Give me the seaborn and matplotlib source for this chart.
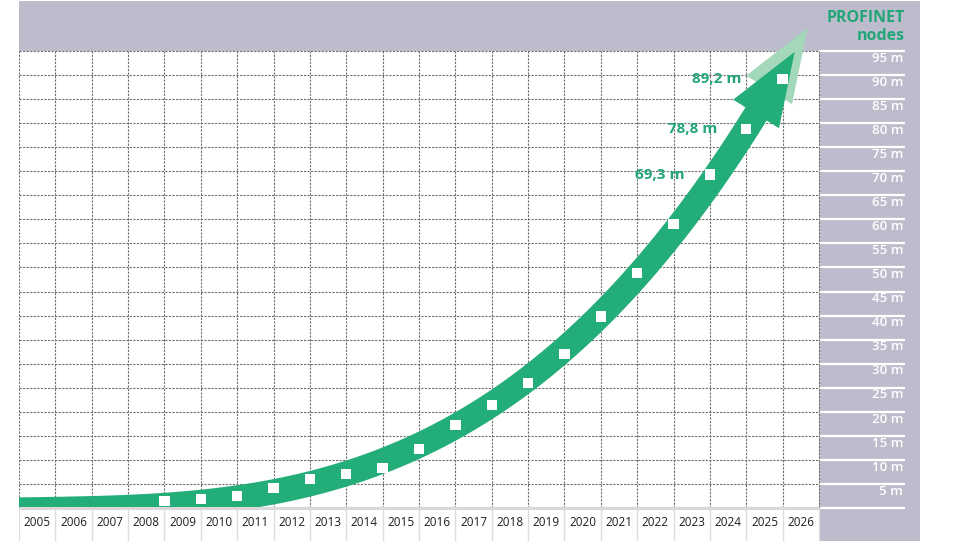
import numpy as np
import matplotlib.pyplot as plt
from matplotlib.patches import Polygon, Rectangle
import seaborn as sns

sns.set_theme(style="white")
plt.rcParams["font.family"] = ["Open Sans", "DejaVu Sans"]

# data (million nodes installed, end of year)
years = list(range(2005, 2027))
node_years = list(range(2008, 2026))
nodes_m = [1.4, 1.8, 2.5, 4.1, 6.0, 7.0, 8.3, 12.2, 17.3, 21.4,
           26.0, 32.0, 39.8, 48.8, 59.0, 69.3, 78.8, 89.2]
labelled_years = [2023, 2024, 2025]
y_ticks = list(range(5, 100, 5))

GREEN = "#23ad79"
LIGHT_GREEN = "#a3d8ba"
PANEL = "#bcbccc"
GRID = "#6f6f6f"

W, H = 960, 541
fig = plt.figure(figsize=(W / 100, H / 100), dpi=100)
ax = fig.add_axes([19 / W, 0, (920 - 19) / W, (541 - 1) / H])

px_year = 800 / len(years)
px_m = 457 / 95
x0 = years[0] - 0.5
x_end = years[-1] + 0.5
ax.set_xlim(x0, x0 + 901 / px_year)
ax.set_ylim(-(541 - 508) / px_m, (508 - 1) / px_m)
ax.axis("off")
xmin, xmax = ax.get_xlim()
ymin, ymax = ax.get_ylim()

# grey frame: top band and right scale panel
ax.add_patch(Rectangle((xmin, 95), xmax - xmin, ymax - 95, color=PANEL, lw=0, zorder=0))
ax.add_patch(Rectangle((x_end, ymin), xmax - x_end, ymax - ymin, color=PANEL, lw=0, zorder=0))
x_scale_right = x0 + (905 - 19) / px_year
ax.hlines([0] + y_ticks, x_end, x_scale_right, color="white", lw=1.6, zorder=1)
for v in y_ticks:
    ax.text(x_scale_right - 0.05, v - 1.5, f"{v} m", ha="right", va="center",
            color="white", fontsize=9.5, fontweight="semibold", zorder=2)

# dashed grid
ax.hlines(y_ticks, x0, x_end, color=GRID, lw=0.8, linestyles=(0, (2, 1.2)), zorder=1)
ax.vlines(np.arange(x0, x_end + 0.5), 0, 95, color=GRID, lw=0.8,
          linestyles=(0, (2, 1.2)), zorder=1)

# arrow: cubic trend of the data starting from the tail of the arrow,
# drawn as a band of constant width in pixels
xs_data = np.array(node_years) + 0.5
tail = years[2]
s = xs_data - tail
A = np.column_stack([s, s ** 2, s ** 3])
coef = np.linalg.lstsq(A, np.array(nodes_m), rcond=None)[0]


def trend(x):
    t = x - tail
    return coef[0] * t + coef[1] * t ** 2 + coef[2] * t ** 3


neck = xs_data[-1] - 0.73
xs = np.linspace(x0 - 0.3, neck, 300)
pts = ax.transData.transform(np.column_stack([xs, trend(xs)]))
d = np.gradient(pts, axis=0)
d /= np.hypot(d[:, 0], d[:, 1])[:, None]
nrm = np.column_stack([-d[:, 1], d[:, 0]])
half = 12.5
upper = pts + nrm * half
lower = pts - nrm * half
base, u, n = pts[-1], d[-1], nrm[-1]
head = np.array([base + n * 27, base + u * 73, base - n * 27])
shape = np.vstack([upper, head, lower[::-1]])
inv = ax.transData.inverted()
ax.add_patch(Polygon(inv.transform(head + np.array([13, 24])), closed=True,
                     color=LIGHT_GREEN, lw=0, zorder=2))
ax.add_patch(Polygon(inv.transform(shape), closed=True, color=GREEN, lw=0, zorder=3))

# year row
ax.add_patch(Rectangle((x0, ymin), x_end - x0, -ymin, color="white", lw=0, zorder=4))
ax.hlines(0, x0, x_end, color="#d9d9d9", lw=2.2, zorder=5)
ax.vlines(np.arange(x0, x_end + 0.5), ymin, 0, color="#dcdcdc", lw=1, zorder=5)
for y in years:
    ax.text(y, -3.1, str(y), ha="center", va="center", fontsize=8.5,
            color="#1e1e1e", zorder=6)

# data squares
sns.scatterplot(x=xs_data, y=nodes_m, marker="s", s=55, color="white",
                edgecolor="none", zorder=6, ax=ax, legend=False)

for y, off in zip(labelled_years, [-18, -21, -29.5]):
    v = nodes_m[node_years.index(y)]
    ax.annotate(f"{v:.1f}".replace(".", ",") + " m", (y + 0.5, v),
                xytext=(off, 0), textcoords="offset points", ha="right",
                va="center", color="#23a677", fontsize=11,
                fontweight="bold", zorder=7)

fig.text(905 / W, 1 - 18 / H, "PROFINET", ha="right", va="center",
         color="#23a677", fontsize=11.5, fontweight="bold")
fig.text(905 / W, 1 - 36 / H, "nodes", ha="right", va="center",
         color="#23a677", fontsize=11.5, fontweight="bold")

fig.savefig("out.png", dpi=100)
